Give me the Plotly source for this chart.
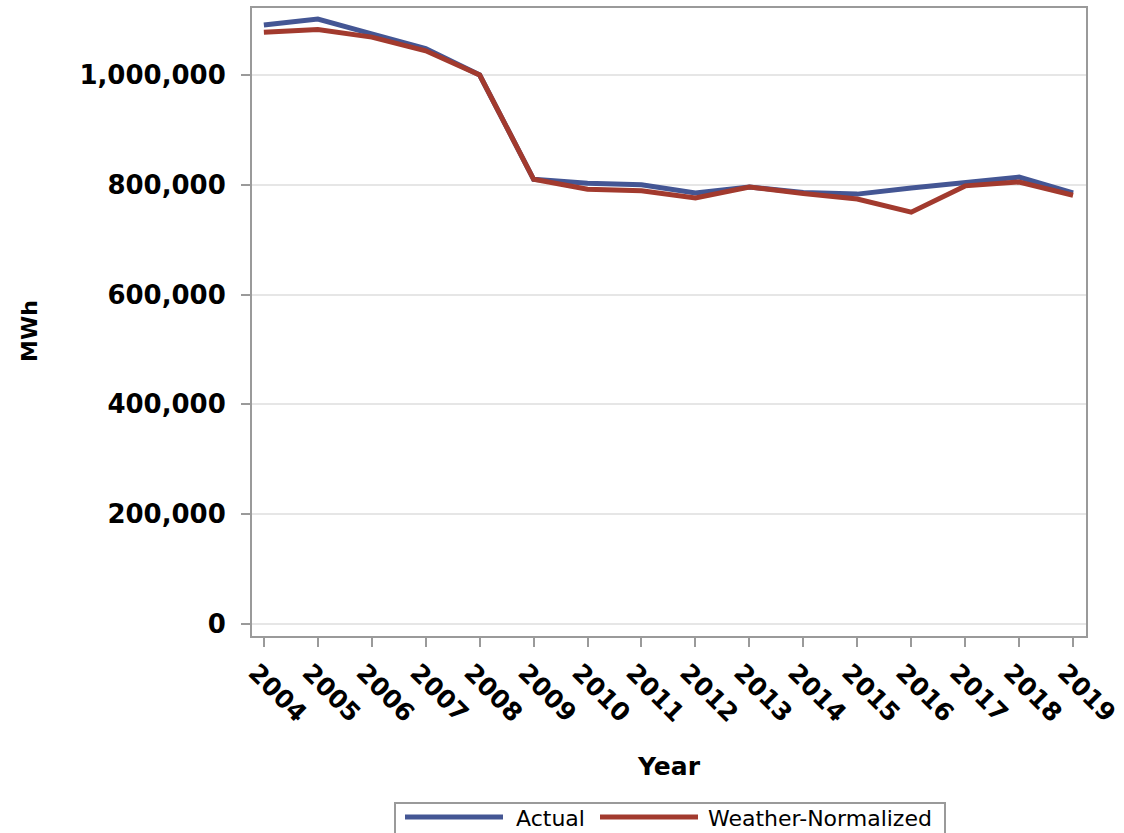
import plotly.graph_objects as go

years = list(range(2004, 2020))
actual = [1091000, 1102000, 1075000, 1048000, 1000000, 810000, 803000, 800000,
          785000, 796000, 786000, 783000, 794000, 805000, 814000, 785000]
weather_normalized = [1078000, 1083000, 1069000, 1044000, 1000000, 810000, 792000, 789000,
                      776000, 796000, 784000, 774000, 750000, 798000, 805000, 781000]
y_ticks = [0, 200000, 400000, 600000, 800000, 1000000]
series_names = ["Actual", "Weather-Normalized"]

BLUE = "#445694"
RED = "#A23A2E"
AX = "#9a9a9a"
FONT = "DejaVu Sans"

# plot area in pixels
L, R, T, B = 252, 1086, 8, 636
W, H = 1124, 833
PW, PH = R - L, B - T


def px(x):
    return (x - L) / PW


def py(y):
    return (B - y) / PH


fig = go.Figure()
fig.add_trace(go.Scatter(x=years, y=actual, mode="lines", name=series_names[0],
                         line=dict(color=BLUE, width=5)))
fig.add_trace(go.Scatter(x=years, y=weather_normalized, mode="lines", name=series_names[1],
                         line=dict(color=RED, width=5)))

shapes = [
    dict(type="rect", xref="paper", yref="paper", x0=px(395), x1=px(945), y0=py(803), y1=py(845),
         line=dict(color=AX, width=2), fillcolor="white", layer="above"),
    dict(type="line", xref="paper", yref="paper", x0=px(405), x1=px(503), y0=py(817), y1=py(817),
         line=dict(color=BLUE, width=5)),
    dict(type="line", xref="paper", yref="paper", x0=px(600), x1=px(698), y0=py(817), y1=py(817),
         line=dict(color=RED, width=5)),
]
annotations = [
    dict(text=series_names[0], xref="paper", yref="paper", x=px(514), y=py(818),
         xanchor="left", yanchor="middle", showarrow=False,
         font=dict(family=FONT, size=22, color="black")),
    dict(text=series_names[1], xref="paper", yref="paper", x=px(706), y=py(818),
         xanchor="left", yanchor="middle", showarrow=False,
         font=dict(family=FONT, size=22, color="black")),
    dict(text="<b>Year</b>", xref="paper", yref="paper", x=0.5, y=py(767),
         xanchor="center", yanchor="middle", showarrow=False,
         font=dict(family=FONT, size=25, color="black")),
    dict(text="<b>MWh</b>", xref="paper", yref="paper", x=px(29), y=py(331),
         xanchor="center", yanchor="middle", showarrow=False, textangle=-90,
         font=dict(family=FONT, size=22, color="black")),
]

fig.update_layout(
    width=W, height=H,
    margin=dict(l=L, r=W - R, t=T, b=H - B, autoexpand=False),
    paper_bgcolor="white", plot_bgcolor="white",
    font=dict(family=FONT, color="black"),
    showlegend=False,
    shapes=shapes,
    annotations=annotations,
    xaxis=dict(range=[2003.78, 2019.24], tickmode="array", tickvals=years,
               ticktext=[str(y) for y in years], tickangle=45, automargin=False,
               ticks="outside", ticklen=9, tickwidth=2, tickcolor=AX,
               ticklabeloverflow="allow", ticklabelshift=-8, ticklabelstandoff=1,
               showline=True, linecolor=AX, linewidth=2, mirror=True,
               showgrid=False, zeroline=False,
               tickfont=dict(family=FONT, size=25, color="black", weight="bold")),
    yaxis=dict(range=[-21900, 1122000], tickmode="array", tickvals=y_ticks,
               ticktext=[f"{v:,}" for v in y_ticks], automargin=False,
               ticks="outside", ticklen=9, tickwidth=2, tickcolor=AX,
               ticklabelstandoff=10,
               showline=True, linecolor=AX, linewidth=2, mirror=True,
               showgrid=True, gridcolor="#e6e6e6", gridwidth=2, zeroline=False,
               tickfont=dict(family=FONT, size=26, color="black", weight="bold")),
)

fig.write_html("out.html", config={"displayModeBar": False},
               post_script="document.body.style.margin='0';document.body.style.overflow='hidden';")
